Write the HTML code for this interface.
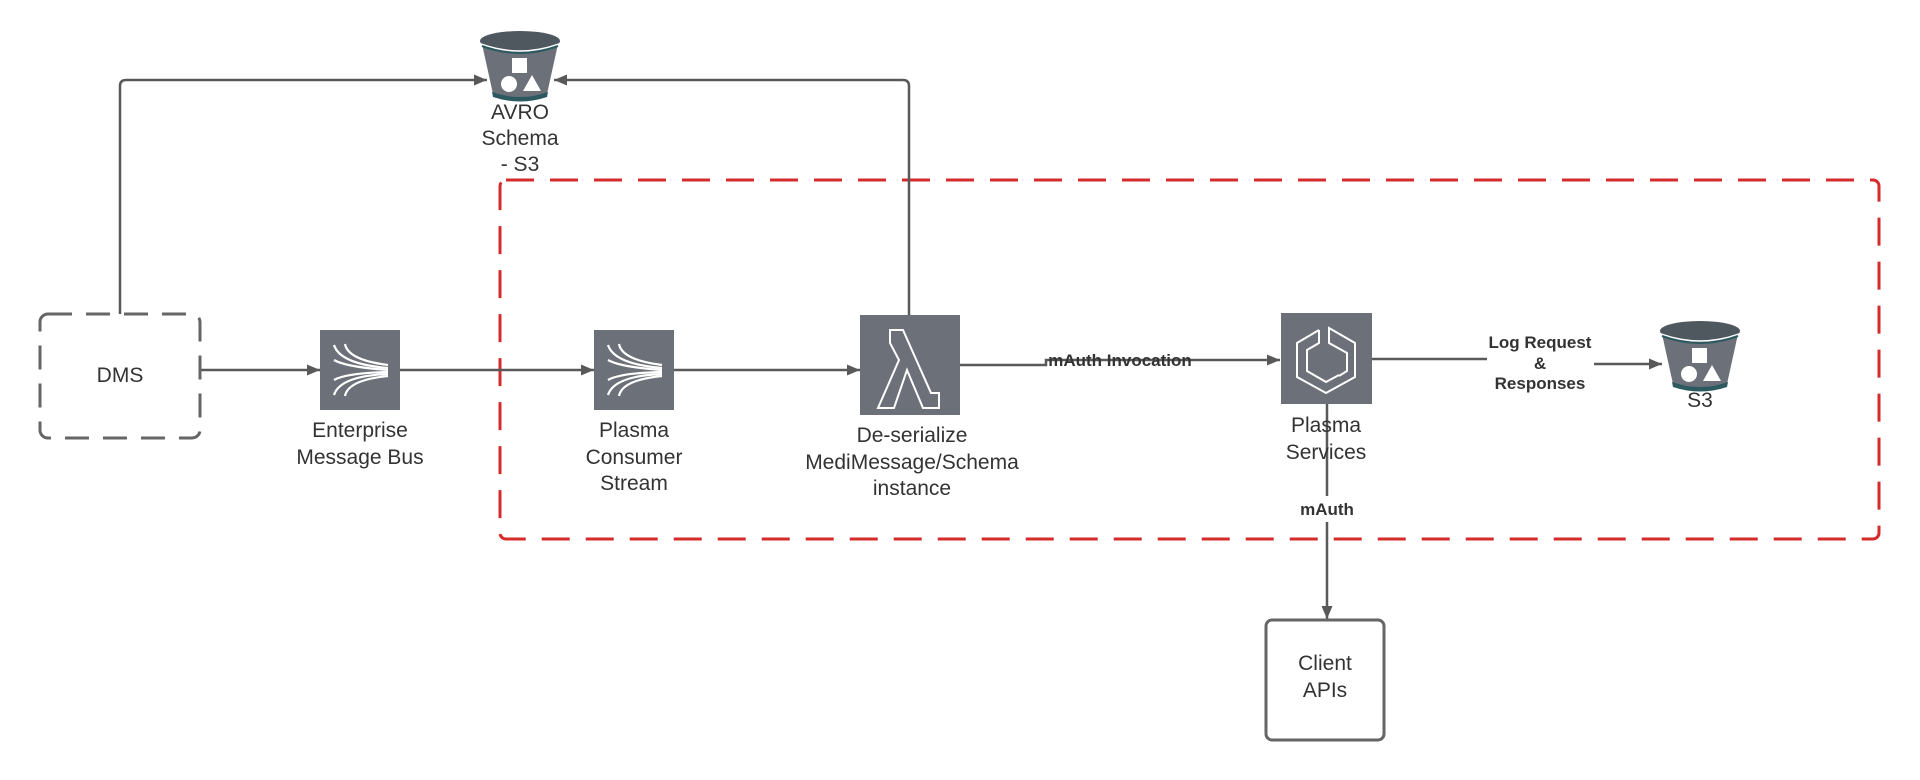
<!DOCTYPE html>
<html><head><meta charset="utf-8"><style>
html,body{margin:0;padding:0;background:#fff;}
svg{display:block;}
.t{font-family:"Liberation Sans",sans-serif;font-size:21px;fill:#333;text-anchor:middle;}
.b{font-family:"Liberation Sans",sans-serif;font-size:17px;font-weight:bold;fill:#333;text-anchor:middle;}
</style></head><body>
<svg width="1920" height="780" viewBox="0 0 1920 780" xmlns="http://www.w3.org/2000/svg">
<defs>
<marker id="ar" markerWidth="13" markerHeight="11" refX="13" refY="5.5" orient="auto" markerUnits="userSpaceOnUse">
<path d="M0,0 L13,5.5 L0,11 z" fill="#595959"/></marker>
<g id="bucket">
<path d="M2,14 L78,14 L67,64 Q40,74 13,64 Z" fill="#6b7079"/>
<path d="M12,62 Q40,72 68,62 L67,67 Q40,76 13,67 Z" fill="#2d5a60"/>
<ellipse cx="40" cy="11" rx="40" ry="10" fill="#4f575f"/>
<path d="M1,14 Q40,28 79,14" fill="none" stroke="#fff" stroke-width="1.5"/>
<path d="M2,16 Q40,30 78,16" fill="none" stroke="#2d5a60" stroke-width="2"/>
<rect x="32" y="28" width="15" height="15" fill="#fff"/>
<circle cx="29" cy="54" r="8" fill="#fff"/>
<path d="M43,61 L52,45 L61,61 Z" fill="#fff"/>
</g>
<g id="stream">
<rect x="0" y="0" width="80" height="80" fill="#6b7079"/>
<g fill="none" stroke="#fff" stroke-width="2.2">
<path d="M14,15 Q20,34 68,38"/>
<path d="M25,14 Q28,30 68,35"/>
<path d="M14,30 Q26,37 68,40"/>
<path d="M14,50 Q26,43 68,42"/>
<path d="M14,65 Q20,46 68,44"/>
<path d="M25,66 Q28,50 68,46"/>
</g>
</g>
</defs>

<rect x="500" y="180" width="1379" height="359" rx="6" fill="none" stroke="#d52b2b" stroke-width="3" stroke-dasharray="28,16"/>

<g fill="none" stroke="#595959" stroke-width="2.5">
<path d="M120,314 L120,86 Q120,80 126,80 L487,80" marker-end="url(#ar)"/>
<path d="M909,315 L909,86 Q909,80 903,80 L554,80" marker-end="url(#ar)"/>
<path d="M200,370 L320,370" marker-end="url(#ar)"/>
<path d="M400,370 L594,370" marker-end="url(#ar)"/>
<path d="M674,370 L860,370" marker-end="url(#ar)"/>
<path d="M960,365 L1046,365 L1046,360 L1280,360" marker-end="url(#ar)"/>
<path d="M1372,359 L1487,359"/>
<path d="M1594,364 L1662,364" marker-end="url(#ar)"/>
<path d="M1327,404 L1327,496"/>
<path d="M1327,522 L1327,619" marker-end="url(#ar)"/>
</g>

<rect x="40" y="314" width="160" height="124" rx="8" fill="none" stroke="#666" stroke-width="3" stroke-dasharray="24,14"/>
<text class="t" x="120" y="382">DMS</text>

<use href="#bucket" x="480" y="30"/>
<text class="t" x="520" y="119">AVRO</text>
<text class="t" x="520" y="145">Schema</text>
<text class="t" x="520" y="171">- S3</text>

<use href="#stream" x="320" y="330"/>
<text class="t" x="360" y="437">Enterprise</text>
<text class="t" x="360" y="464">Message Bus</text>
<use href="#stream" x="594" y="330"/>
<text class="t" x="634" y="437">Plasma</text>
<text class="t" x="634" y="464">Consumer</text>
<text class="t" x="634" y="490">Stream</text>

<rect x="860" y="315" width="100" height="100" fill="#6b7079"/>
<path d="M890,333 L903,333 L931,396 L939,396 L939,411 L923,411 L907,373 L894,411 L878,411 L899,363 L890,346 Z" transform="translate(0,-3)" fill="none" stroke="#fff" stroke-width="2"/>
<text class="t" x="912" y="442">De-serialize</text>
<text class="t" x="912" y="469">MediMessage/Schema</text>
<text class="t" x="912" y="495">instance</text>

<rect x="1281" y="313" width="91" height="91" fill="#6b7079"/>
<g fill="none" stroke="#fff" stroke-width="2">
<path d="M1319,330 L1297,343 L1297,377 L1326,393 L1355,377 L1355,343 L1329,328 L1329,343 L1347,353 L1347,371 L1339,376"/>
<path d="M1319,330 L1319,343 L1307,350 L1307,371 L1326,382 L1339,375"/>
</g>
<text class="t" x="1326" y="432">Plasma</text>
<text class="t" x="1326" y="459">Services</text>
<text class="b" x="1327" y="515">mAuth</text>

<use href="#bucket" x="1660" y="320"/>
<text class="t" x="1700" y="407">S3</text>

<text class="b" x="1120" y="366">mAuth Invocation</text>
<text class="b" x="1540" y="348">Log Request</text>
<text class="b" x="1540" y="369">&amp;</text>
<text class="b" x="1540" y="389">Responses</text>

<rect x="1266" y="620" width="118" height="120" rx="6" fill="#fff" stroke="#666" stroke-width="3"/>
<text class="t" x="1325" y="670">Client</text>
<text class="t" x="1325" y="697">APIs</text>
</svg>
</body></html>
